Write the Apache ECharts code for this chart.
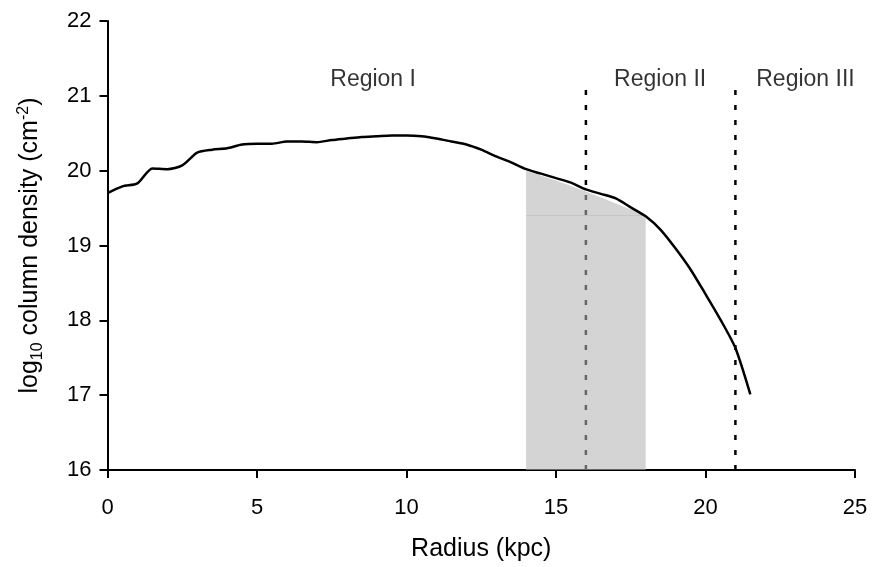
<!DOCTYPE html>
<html>
<head>
<meta charset="utf-8">
<script src="https://cdn.jsdelivr.net/npm/echarts@6/dist/echarts.min.js"></script>
<style>
html,body{margin:0;padding:0;background:#fff;}
#chart{width:872px;height:567px;}
</style>
</head>
<body>
<div id="chart"></div>
<script>
// Radius (kpc) and log10 column density of the profile
const radius = [0,0.5,1,1.5,2,2.5,3,3.5,4,4.5,5,5.5,6,6.5,7,7.5,8,8.5,9,9.5,10,10.5,11,11.5,12,12.5,13,13.5,14,14.5,15,15.5,16,16.5,17,17.5,18,18.5,19,19.5,20,20.5,21,21.5];
const density = [19.70,19.79,19.83,20.03,20.02,20.07,20.24,20.28,20.30,20.35,20.36,20.36,20.39,20.39,20.38,20.41,20.43,20.45,20.46,20.47,20.47,20.46,20.43,20.39,20.35,20.28,20.19,20.11,20.02,19.96,19.90,19.84,19.75,19.69,19.63,19.51,19.39,19.21,18.96,18.68,18.35,18.01,17.63,17.01];

// Shaded band (14-18 kpc)
const shadeX = [14,15,16,17,18];
const shadeY = [20.00,19.87,19.72,19.56,19.40];
const shadeLevel = 19.40;

// Region boundaries
const boundaries = [16,21];
const boundaryTop = 21.12;

// Region labels
const regionNames = ['Region I','Region II','Region III'];
const regionX = [8.9,18.5,23.36];
const regionY = 21.21;

const xTicks = [0,5,10,15,20,25];
const yTicks = [16,17,18,19,20,21,22];

const FONT = 'Liberation Sans, Arial, sans-serif';
const FS_TICK = 22;
const FS_TITLE = 25;
const FS_REGION = 23;

const chart = echarts.init(document.getElementById('chart'), null, {renderer:'canvas'});

const series = [];
boundaries.forEach(b => {
  series.push({
    type:'line', data:[[b,16],[b,boundaryTop]], symbol:'none', silent:true,
    lineStyle:{color:'#000', width:2.5, type:[5,10]}, z:2
  });
});
series.push({
  type:'line', data:shadeX.map((x,i)=>[x,shadeY[i]]), symbol:'none', silent:true,
  lineStyle:{width:0}, areaStyle:{color:'rgb(179,179,179)', opacity:0.57, origin:'start'}, z:3
});
series.push({
  type:'line', data:[[shadeX[0],shadeLevel],[shadeX[shadeX.length-1],shadeLevel]], symbol:'none', silent:true,
  lineStyle:{color:'#c4c4c4', width:1}, z:3
});
series.push({
  type:'line', data:radius.map((x,i)=>[x,density[i]]), symbol:'none', smooth:0.25, silent:true,
  lineStyle:{color:'#000', width:2.5}, z:4
});
series.push({
  type:'scatter', data:regionX.map((x,i)=>({value:[x,regionY], name:regionNames[i]})),
  symbolSize:1, itemStyle:{color:'rgba(0,0,0,0)'}, silent:true,
  label:{show:true, position:[0,0], align:'center', verticalAlign:'middle',
    formatter:p=>p.name, color:'#000', fontSize:FS_REGION, fontFamily:FONT,
    textBorderWidth:0}, z:5
});

chart.setOption({
  animation:false,
  backgroundColor:'#fff',
  grid:{left:107.5, right:17, top:21, bottom:96, containLabel:false},
  xAxis:{
    type:'value', min:0, max:25, interval:5,
    name:'Radius (kpc)', nameLocation:'middle', nameGap:67,
    nameTextStyle:{color:'#000', fontSize:FS_TITLE, fontFamily:FONT},
    axisLine:{show:true, lineStyle:{color:'#000', width:2}},
    axisTick:{show:true, inside:false, length:8, lineStyle:{color:'#000', width:2}},
    axisLabel:{color:'#000', fontSize:FS_TICK, fontFamily:FONT, margin:27,
      formatter:v=> xTicks.includes(v)? String(v):''},
    splitLine:{show:false}
  },
  yAxis:{
    type:'value', min:16, max:22, interval:1,
    name:'{a|log}{s|10}{a| column density (cm}{p|-2}{a|)}',
    nameLocation:'middle', nameGap:62, nameRotate:90,
    nameTextStyle:{color:'#000', fontSize:FS_TITLE, fontFamily:FONT,
      rich:{
        a:{fontSize:FS_TITLE, fontFamily:FONT, color:'#000', lineHeight:30},
        s:{fontSize:16, fontFamily:FONT, color:'#000', verticalAlign:'bottom', lineHeight:22, padding:[9,0,0,0]},
        p:{fontSize:16, fontFamily:FONT, color:'#000', verticalAlign:'top', lineHeight:22, padding:[0,0,9,0]}
      }},
    axisLine:{show:true, lineStyle:{color:'#000', width:2}},
    axisTick:{show:true, inside:false, length:8, lineStyle:{color:'#000', width:2}},
    axisLabel:{color:'#000', fontSize:FS_TICK, fontFamily:FONT, margin:16,
      formatter:v=> yTicks.includes(v)? String(v):''},
    splitLine:{show:false}
  },
  series:series
});
</script>
</body>
</html>
